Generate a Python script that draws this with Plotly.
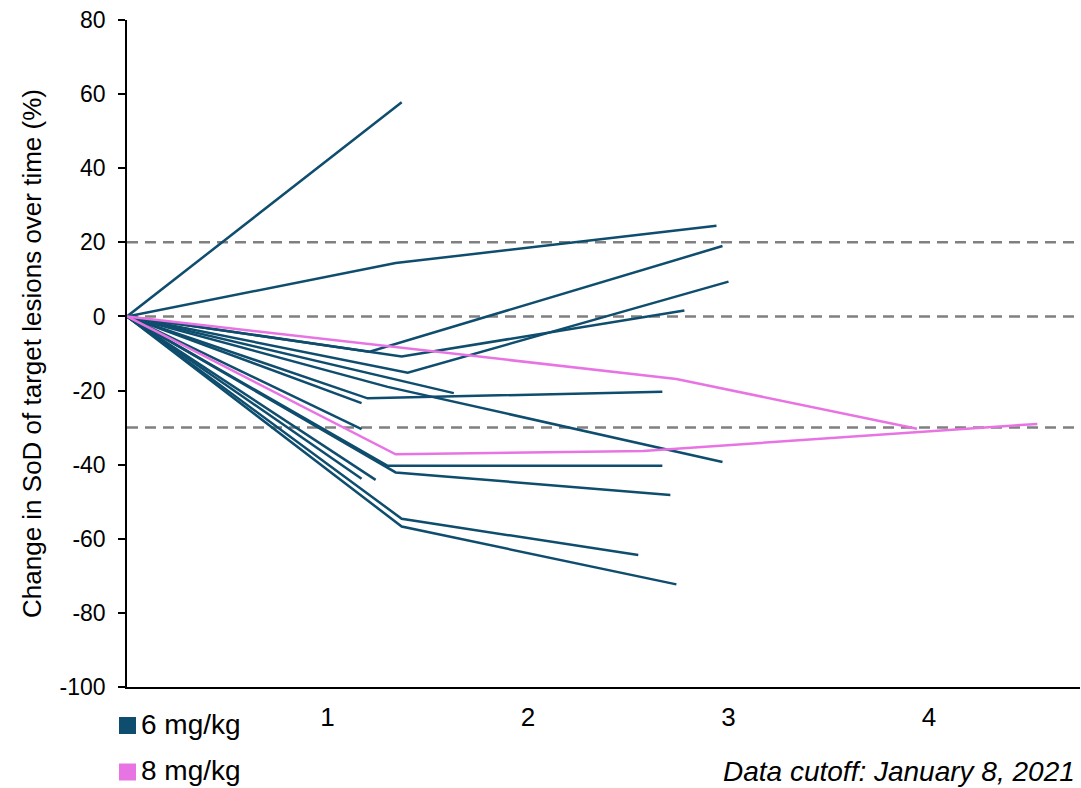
import plotly.graph_objects as go

# ---- data ----
x_ticks = [1, 2, 3, 4]
x_ticklabels = ["1", "2", "3", "4"]
y_ticks = [-100, -80, -60, -40, -20, 0, 20, 40, 60, 80]
y_ticklabels = ["-100", "-80", "-60", "-40", "-20", "0", "20", "40", "60", "80"]
ref_lines = [20, 0, -30]

# 6 mg/kg patients: time points and % change
blue_x = [
    [0, 1.37],
    [0, 1.34, 2.94],
    [0, 1.21, 2.97],
    [0, 1.37, 2.78],
    [0, 1.40, 3.00],
    [0, 1.63],
    [0, 1.20, 2.67],
    [0, 1.30, 2.97],
    [0, 1.17],
    [0, 1.17],
    [0, 1.30, 2.67],
    [0, 1.34, 2.71],
    [0, 1.17],
    [0, 1.24],
    [0, 1.37, 2.55],
    [0, 1.37, 2.74],
]
blue_y = [
    [0, 57.8],
    [0, 14.4, 24.5],
    [0, -9.5, 19.0],
    [0, -10.8, 1.6],
    [0, -15.2, 9.4],
    [0, -20.7],
    [0, -22.1, -20.3],
    [0, -19.0, -39.3],
    [0, -23.4],
    [0, -30.4],
    [0, -40.3, -40.3],
    [0, -42.1, -48.2],
    [0, -43.8],
    [0, -44.1],
    [0, -54.6, -64.4],
    [0, -56.7, -72.3],
]

# 8 mg/kg patients
pink_x = [
    [0, 2.74, 3.94],
    [0, 1.34, 2.575, 4.54],
]
pink_y = [
    [0, -16.9, -30.3],
    [0, -37.2, -36.3, -29.0],
]

series_names = ["6 mg/kg", "8 mg/kg"]
BLUE = "#0E4D6D"
PINK = "#E874E4"

fig = go.Figure()
for xs, ys in zip(blue_x, blue_y):
    fig.add_trace(go.Scatter(x=xs, y=ys, mode="lines",
                             line=dict(color=BLUE, width=2.5),
                             showlegend=False, hoverinfo="skip"))
for xs, ys in zip(pink_x, pink_y):
    fig.add_trace(go.Scatter(x=xs, y=ys, mode="lines",
                             line=dict(color=PINK, width=2.5),
                             showlegend=False, hoverinfo="skip"))

for yv in ref_lines:
    fig.add_shape(type="line", xref="paper", x0=0, x1=1, yref="y", y0=yv, y1=yv,
                  line=dict(color="#808080", width=2.5, dash="11px,7px"), layer="below")

FONT = "Liberation Sans, Arial, sans-serif"
W, H = 1081, 788
L, R, T, B = 127, 1, 20, 101

fig.update_layout(
    width=W, height=H,
    margin=dict(l=L, r=R, t=T, b=B),
    paper_bgcolor="white", plot_bgcolor="white",
    font=dict(family=FONT, color="black"),
    showlegend=False,
    xaxis=dict(range=[0, 4.753], tickvals=x_ticks, ticktext=x_ticklabels,
               showgrid=False, zeroline=False, showline=True, linecolor="black",
               linewidth=1.5, ticks="", tickfont=dict(size=26, family=FONT),
               ticklabelstandoff=6),
    yaxis=dict(range=[-100, 80], tickvals=y_ticks, ticktext=y_ticklabels,
               showgrid=False, zeroline=False,
               showline=True, linecolor="black", linewidth=1.5, ticks="outside",
               ticklen=7, tickwidth=1.5, tickcolor="black",
               tickfont=dict(size=23, family=FONT), ticklabelstandoff=8,
               title=dict(text="Change in SoD of target lesions over time (%)",
                          font=dict(size=26, family=FONT), standoff=11)),
)

# legend (manual) at bottom-left
def px2paper_x(px):
    return (px - L) / (W - L - R)

def px2paper_y(py):
    return (H - B - py) / (H - T - B)

legend_rows = [(725.5, BLUE, series_names[0]), (772, PINK, series_names[1])]
for cy, col, name in legend_rows:
    fig.add_shape(type="rect", xref="paper", yref="paper",
                  x0=px2paper_x(119), x1=px2paper_x(136),
                  y0=px2paper_y(cy + 8.5), y1=px2paper_y(cy - 8.5),
                  fillcolor=col, line=dict(width=0))
    fig.add_annotation(text=name, xref="paper", yref="paper",
                       x=px2paper_x(139), y=px2paper_y(cy - 1.5), xanchor="left", yanchor="middle",
                       showarrow=False, font=dict(size=28, family=FONT, color="black"))

fig.add_annotation(text="<i>Data cutoff: January 8, 2021</i>", xref="paper", yref="paper",
                   x=px2paper_x(1077), y=px2paper_y(771), xanchor="right", yanchor="middle",
                   showarrow=False, font=dict(size=28, family=FONT, color="black"))

fig.write_html("out.html")
